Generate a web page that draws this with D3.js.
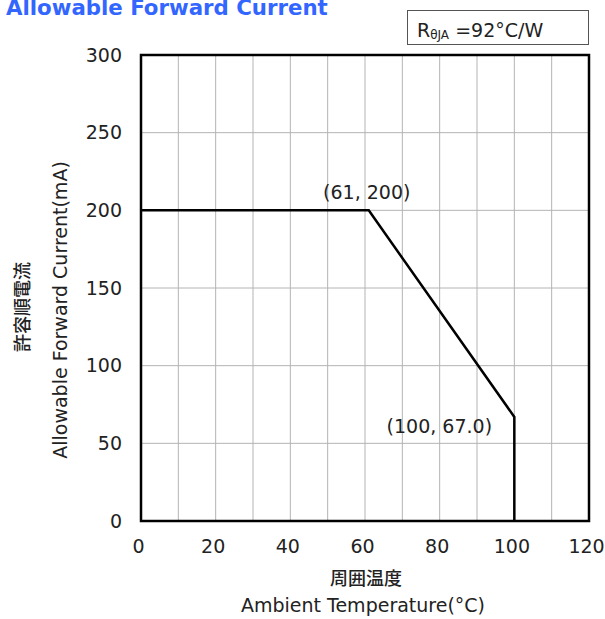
<!DOCTYPE html>
<html>
<head>
<meta charset="utf-8">
<script src="https://cdn.jsdelivr.net/npm/d3@7"></script>
<style>
body { margin:0; background:#fff; }
text { font-family: "DejaVu Sans", Verdana, sans-serif; fill:#222; }
</style>
</head>
<body>
<svg id="chart"></svg>
<script>
// derating curve
var temps = [0, 61, 100, 100]
var currents = [200, 200, 67.0, 0]

var xTicks = [0, 20, 40, 60, 80, 100, 120]
var yTicks = [0, 50, 100, 150, 200, 250, 300]

var notes = [
    {x: 61, y: 200, label: "(61, 200)"},
    {x: 100, y: 67.0, label: "(100, 67.0)"}
]

var screen = {width: 605, height: 619}
var margin = {left: 141, right: 16, top: 55, bottom: 98}

var svg = d3.select("#chart")
    .attr("width", screen.width)
    .attr("height", screen.height)

var xScale = d3.scaleLinear()
    .domain([0, 120])
    .range([margin.left, screen.width - margin.right])

var yScale = d3.scaleLinear()
    .domain([0, 300])
    .range([screen.height - margin.bottom, margin.top])

// grid
svg.append("g")
    .selectAll("line")
    .data(d3.range(10, 120, 10))
    .enter()
    .append("line")
    .attr("x1", function(d){return xScale(d)})
    .attr("x2", function(d){return xScale(d)})
    .attr("y1", yScale(0))
    .attr("y2", yScale(300))
    .attr("stroke", "#b4b4b4")
    .attr("stroke-width", 1)

svg.append("g")
    .selectAll("line")
    .data(d3.range(50, 300, 50))
    .enter()
    .append("line")
    .attr("x1", xScale(0))
    .attr("x2", xScale(120))
    .attr("y1", function(d){return yScale(d)})
    .attr("y2", function(d){return yScale(d)})
    .attr("stroke", "#b4b4b4")
    .attr("stroke-width", 1)

// frame
svg.append("rect")
    .attr("x", xScale(0))
    .attr("y", yScale(300))
    .attr("width", xScale(120) - xScale(0))
    .attr("height", yScale(0) - yScale(300))
    .attr("fill", "none")
    .attr("stroke", "#000")
    .attr("stroke-width", 2.5)

// axes (labels only)
var xAxis = svg.append("g")
    .attr("transform", "translate(-3," + (yScale(0) + 15) + ")")
    .call(d3.axisBottom(xScale).tickValues(xTicks).tickSize(0))
xAxis.select(".domain").remove()
xAxis.selectAll("text")
    .style("font-size", "19px")
    .style("font-family", "DejaVu Sans")
    .attr("fill", "#222")

var yAxis = svg.append("g")
    .attr("transform", "translate(" + (xScale(0) - 16) + ",0)")
    .call(d3.axisLeft(yScale).tickValues(yTicks).tickSize(0))
yAxis.select(".domain").remove()
yAxis.selectAll("text")
    .style("font-size", "19px")
    .style("font-family", "DejaVu Sans")
    .attr("fill", "#222")

// curve
var pts = temps.map(function(t, i){ return {x: t, y: currents[i]} })
var line = d3.line()
    .x(function(d){return xScale(d.x)})
    .y(function(d){return yScale(d.y)})

svg.append("path")
    .datum(pts)
    .attr("d", line)
    .attr("fill", "none")
    .attr("stroke", "#000")
    .attr("stroke-width", 2.5)

// point labels
svg.append("text")
    .attr("x", xScale(notes[0].x) - 2)
    .attr("y", yScale(notes[0].y) - 11)
    .attr("text-anchor", "middle")
    .style("font-size", "19px")
    .text(notes[0].label)

svg.append("text")
    .attr("x", xScale(notes[1].x) - 75)
    .attr("y", yScale(notes[1].y) + 16)
    .attr("text-anchor", "middle")
    .style("font-size", "19px")
    .text(notes[1].label)

// title
svg.append("text")
    .attr("x", 6)
    .attr("y", 15)
    .style("font-size", "21.3px")
    .style("font-weight", "bold")
    .style("fill", "#3366ff")
    .text("Allowable Forward Current")

// thermal resistance box
svg.append("rect")
    .attr("x", 407.5)
    .attr("y", 10.5)
    .attr("width", 181)
    .attr("height", 34)
    .attr("fill", "#fff")
    .attr("stroke", "#555")
    .attr("stroke-width", 1)

var rt = svg.append("text")
    .attr("x", 417)
    .attr("y", 37)
    .style("font-size", "19px")
rt.append("tspan").text("R")
rt.append("tspan").text("θJA").style("font-size", "12px").attr("dy", 2)
rt.append("tspan").text(" =92°C/W").attr("dy", -2)

// axis titles
svg.append("text")
    .attr("x", 366)
    .attr("y", 585)
    .attr("text-anchor", "middle")
    .style("font-size", "18px")
    .style("font-weight", "500")
    .style("font-family", "Noto Sans CJK JP")
    .text("周囲温度")

svg.append("text")
    .attr("x", 363)
    .attr("y", 612)
    .attr("text-anchor", "middle")
    .style("font-size", "19px")
    .text("Ambient Temperature(°C)")

svg.append("text")
    .attr("transform", "translate(67,310) rotate(-90)")
    .attr("text-anchor", "middle")
    .style("font-size", "19px")
    .text("Allowable Forward Current(mA)")

svg.append("text")
    .attr("transform", "translate(21,307) rotate(-90)")
    .attr("text-anchor", "middle")
    .attr("dominant-baseline", "central")
    .style("font-size", "18px")
    .style("font-weight", "500")
    .style("font-family", "Noto Sans CJK JP")
    .text("許容順電流")
</script>
</body>
</html>
